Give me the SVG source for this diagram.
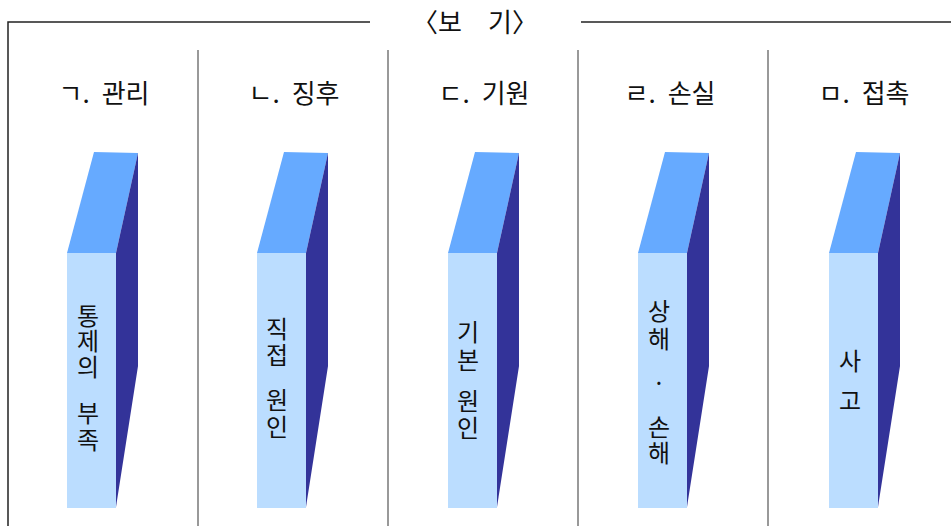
<svg xmlns="http://www.w3.org/2000/svg" width="951" height="526" viewBox="0 0 951 526">
<defs>
<style>
.frame{stroke:#222;stroke-width:1.5;fill:none}
.div{stroke:#777;stroke-width:1.5;fill:none}
.title{font-family:"Noto Sans CJK KR","Noto Sans",sans-serif;font-size:26px;fill:#111}
.head{font-family:"Noto Sans CJK KR","Noto Sans",sans-serif;font-size:26px;fill:#111;text-anchor:middle}
.lbl{font-family:"Noto Sans CJK KR","Noto Sans",sans-serif;font-size:24px;fill:#111;text-anchor:middle}
.top{fill:#66AAFF}
.front{fill:#BBDDFF}
.side{fill:#333399}
</style>
<g id="box">
<polygon class="top" points="0,253 27,152 71,153 49,253"/>
<polygon class="side" points="49,253 71,153 71,366 49,507"/>
<rect class="front" x="0" y="253" width="49" height="255"/>
</g>
</defs>
<g id="frame">
<polyline class="frame" points="370,22 8,22 8,526"/>
<line class="frame" x1="581" y1="22" x2="951" y2="22"/>
<text class="title" x="475" y="32" text-anchor="middle">〈보　기〉</text>
</g>
<g id="connectors">
<line class="div" x1="198" y1="50" x2="198" y2="526"/>
<line class="div" x1="388" y1="50" x2="388" y2="526"/>
<line class="div" x1="578" y1="50" x2="578" y2="526"/>
<line class="div" x1="768" y1="50" x2="768" y2="526"/>
</g>
<g id="col1">
<text class="head" x="104" y="103">ㄱ.<tspan dx="12">관리</tspan></text>
<use href="#box" x="67"/>
<text class="lbl" x="88"><tspan x="88" y="325">통</tspan><tspan x="88" y="350">제</tspan><tspan x="88" y="376">의</tspan><tspan x="88" y="422">부</tspan><tspan x="88" y="449">족</tspan></text>
</g>
<g id="col2">
<text class="head" x="294" y="103">ㄴ.<tspan dx="12">징후</tspan></text>
<use href="#box" x="257"/>
<text class="lbl" x="277"><tspan x="277" y="338">직</tspan><tspan x="277" y="364">접</tspan><tspan x="277" y="409">원</tspan><tspan x="277" y="436">인</tspan></text>
</g>
<g id="col3">
<text class="head" x="484" y="103">ㄷ.<tspan dx="12">기원</tspan></text>
<use href="#box" x="448"/>
<text class="lbl" x="468"><tspan x="468" y="341">기</tspan><tspan x="468" y="369">본</tspan><tspan x="468" y="410">원</tspan><tspan x="468" y="437">인</tspan></text>
</g>
<g id="col4">
<text class="head" x="670" y="103">ㄹ.<tspan dx="12">손실</tspan></text>
<use href="#box" x="638"/>
<text class="lbl" x="659"><tspan x="659" y="320">상</tspan><tspan x="659" y="348">해</tspan><tspan x="659" y="392">·</tspan><tspan x="659" y="436">손</tspan><tspan x="659" y="462">해</tspan></text>
</g>
<g id="col5">
<text class="head" x="864" y="103">ㅁ.<tspan dx="12">접촉</tspan></text>
<use href="#box" x="829"/>
<text class="lbl" x="850"><tspan x="850" y="370">사</tspan><tspan x="850" y="410">고</tspan></text>
</g>
</svg>
